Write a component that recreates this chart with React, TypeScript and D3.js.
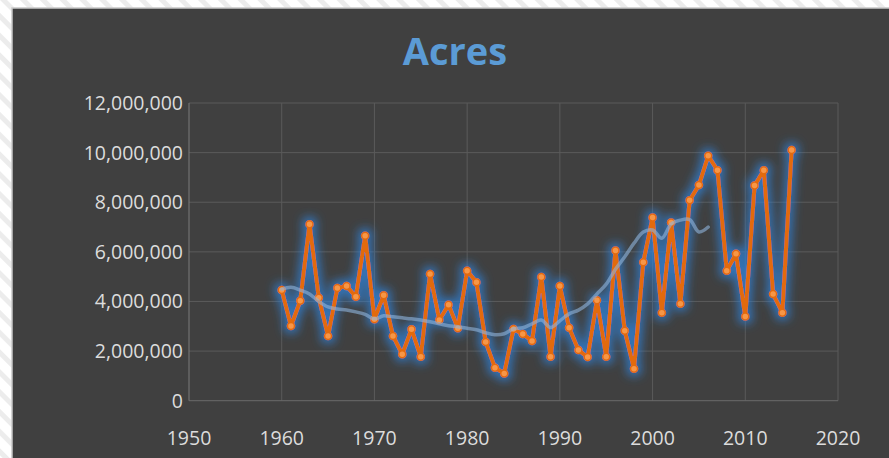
import React, { useEffect, useRef } from 'react';
import * as d3 from 'd3';

// acres burned per year, 1960 - 2015
const years = d3.range(1960, 2016);
const acres = [
    4.46, 3.01, 4.03, 7.11, 4.15, 2.61, 4.54, 4.62, 4.19, 6.65,
    3.28, 4.25, 2.61, 1.87, 2.88, 1.77, 5.11, 3.25, 3.87, 2.92,
    5.24, 4.77, 2.37, 1.33, 1.10, 2.89, 2.69, 2.41, 4.99, 1.77,
    4.62, 2.94, 2.04, 1.76, 4.05, 1.77, 6.05, 2.82, 1.29, 5.58,
    7.38, 3.55, 7.18, 3.91, 8.08, 8.69, 9.87, 9.29, 5.24, 5.92,
    3.39, 8.67, 9.29, 4.30, 3.55, 10.11
].map(v => v * 1e6);

// the smooth trend line, 1960 - 2006
const trendYears = d3.range(1960, 2007);
const trend = [
    4.50, 4.57, 4.46, 4.30, 4.00, 3.78, 3.70, 3.66, 3.58, 3.48,
    3.30, 3.42, 3.38, 3.34, 3.30, 3.25, 3.18, 3.10, 3.02, 2.98,
    2.92, 2.86, 2.74, 2.66, 2.70, 2.90, 2.94, 3.10, 3.25, 2.95,
    3.22, 3.50, 3.65, 3.90, 4.30, 4.70, 5.30, 5.80, 6.35, 6.80,
    6.88, 6.55, 7.12, 7.28, 7.30, 6.80, 7.00
].map(v => v * 1e6);

const xTicks = [1950, 1960, 1970, 1980, 1990, 2000, 2010, 2020];
const yTicks = [0, 2e6, 4e6, 6e6, 8e6, 10e6, 12e6];

const width = 889;
const height = 458;

const App = () => {
    const ref = useRef<SVGSVGElement>(null);

    useEffect(() => {
        const svg = d3.select(ref.current);
        svg.selectAll('*').remove();

        const defs = svg.append('defs');

        const hatch = defs.append('pattern')
            .attr('id', 'hatch')
            .attr('patternUnits', 'userSpaceOnUse')
            .attr('width', 14)
            .attr('height', 14)
            .attr('patternTransform', 'rotate(-45)');
        hatch.append('rect').attr('width', 14).attr('height', 14).attr('fill', '#ffffff');
        hatch.append('rect').attr('width', 5).attr('height', 14).attr('fill', '#ececec');

        const glow = defs.append('filter')
            .attr('id', 'glow')
            .attr('x', '-20%').attr('y', '-20%')
            .attr('width', '140%').attr('height', '140%');
        glow.append('feMorphology').attr('in', 'SourceAlpha').attr('operator', 'dilate').attr('radius', 3).attr('result', 'fat');
        glow.append('feGaussianBlur').attr('in', 'fat').attr('stdDeviation', 5).attr('result', 'blur');
        glow.append('feFlood').attr('flood-color', '#2f80d4').attr('flood-opacity', 0.8);
        glow.append('feComposite').attr('in2', 'blur').attr('operator', 'in').attr('result', 'halo');
        const merge = glow.append('feMerge');
        merge.append('feMergeNode').attr('in', 'halo');
        merge.append('feMergeNode').attr('in', 'SourceGraphic');

        svg.append('rect').attr('width', width).attr('height', height).attr('fill', 'url(#hatch)');
        svg.append('rect')
            .attr('x', 12).attr('y', 8)
            .attr('width', width).attr('height', height)
            .attr('fill', '#404040')
            .attr('stroke', '#c8c8c8')
            .attr('stroke-width', 1.5);

        const x = d3.scaleLinear().domain([1950, 2020]).range([189, 838]);
        const y = d3.scaleLinear().domain([0, 12e6]).range([400.7, 103]);

        // gridlines
        svg.append('g')
            .selectAll('line')
            .data(yTicks.slice(1))
            .enter()
            .append('line')
            .attr('x1', x(1950)).attr('x2', x(2020))
            .attr('y1', d => y(d)).attr('y2', d => y(d))
            .attr('stroke', '#5a5a5a')
            .attr('stroke-width', 1);
        svg.append('g')
            .selectAll('line')
            .data(xTicks)
            .enter()
            .append('line')
            .attr('x1', d => x(d)).attr('x2', d => x(d))
            .attr('y1', y(0)).attr('y2', y(12e6))
            .attr('stroke', d => d === 1950 ? '#7a7a7a' : '#5a5a5a')
            .attr('stroke-width', 1);
        svg.append('line')
            .attr('x1', x(1950)).attr('x2', x(2020))
            .attr('y1', y(0)).attr('y2', y(0))
            .attr('stroke', '#6a6a6a');

        // axis labels
        svg.append('g')
            .selectAll('text')
            .data(yTicks)
            .enter()
            .append('text')
            .attr('x', 183)
            .attr('y', d => y(d) + 7)
            .attr('text-anchor', 'end')
            .style('font', '19.5px "Open Sans"')
            .attr('fill', '#dcdcdc')
            .text(d => d3.format(',')(d));
        svg.append('g')
            .selectAll('text')
            .data(xTicks)
            .enter()
            .append('text')
            .attr('x', d => x(d))
            .attr('y', 445)
            .attr('text-anchor', 'middle')
            .style('font', '19.5px "Open Sans"')
            .attr('fill', '#dcdcdc')
            .text(d => d);

        svg.append('text')
            .attr('x', 455)
            .attr('y', 65)
            .attr('text-anchor', 'middle')
            .style('font', 'bold 38px "Open Sans"')
            .attr('fill', '#5b9bd5')
            .text('Acres');

        // acres series with glow
        const series = svg.append('g').attr('filter', 'url(#glow)');
        const line = d3.line<number>()
            .x((d, i) => x(years[i]))
            .y(d => y(d));
        series.append('path')
            .datum(acres)
            .attr('d', line)
            .attr('fill', 'none')
            .attr('stroke', '#e26b10')
            .attr('stroke-width', 4)
            .attr('stroke-linejoin', 'round');
        series.selectAll('circle')
            .data(acres)
            .enter()
            .append('circle')
            .attr('cx', (d, i) => x(years[i]))
            .attr('cy', d => y(d))
            .attr('r', 3.5)
            .attr('fill', '#f79646')
            .attr('stroke', '#e26b10')
            .attr('stroke-width', 1.5);

        // smooth trend line
        const trendLine = d3.line<number>()
            .x((d, i) => x(trendYears[i]))
            .y(d => y(d))
            .curve(d3.curveCatmullRom);
        svg.append('path')
            .datum(trend)
            .attr('d', trendLine)
            .attr('fill', 'none')
            .attr('stroke', '#8fb4dc')
            .attr('stroke-opacity', 0.6)
            .attr('stroke-width', 3.5)
            .attr('stroke-linecap', 'round');
    }, []);

    return (
        <svg ref={ref} width={width} height={height}
            style={{ position: 'absolute', left: 0, top: 0 }} />
    );
};

export default App;
